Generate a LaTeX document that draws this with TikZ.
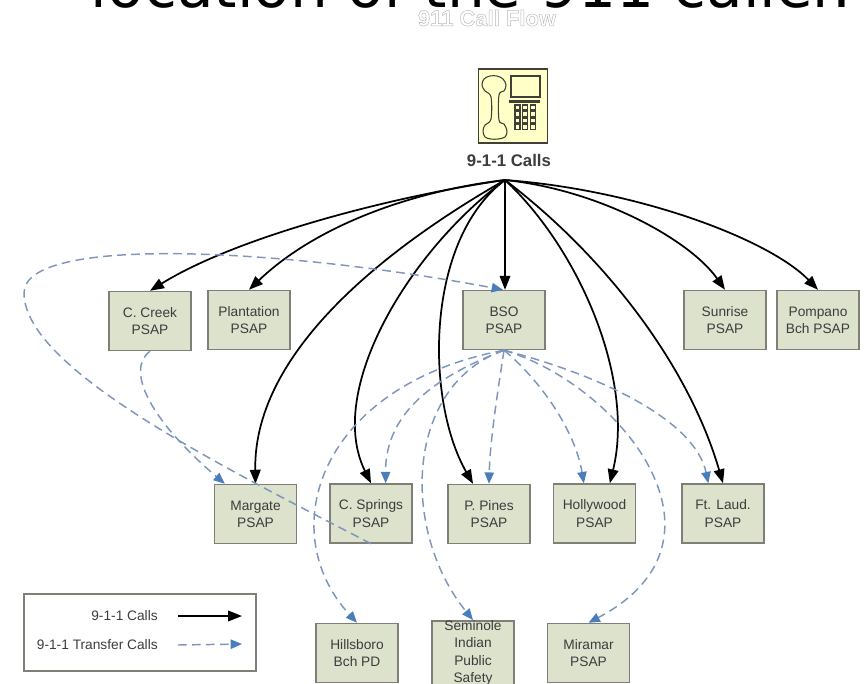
\documentclass[tikz,border=0pt]{standalone}
\usepackage{fontspec}
\setmainfont{Liberation Sans}
\newfontfamily\headfont{DejaVu Sans}
\usetikzlibrary{arrows.meta}
\definecolor{PsapFill}{HTML}{DDE2CC}
\definecolor{PsapEdge}{HTML}{7F7F78}
\definecolor{PsapText}{HTML}{3C3C3C}
\definecolor{TransferLine}{HTML}{7C96BC}
\definecolor{TransferTip}{HTML}{4A7EBB}
\definecolor{PhoneFill}{HTML}{FFFFC8}
\definecolor{PhoneEdge}{HTML}{404038}
\newcommand{\outlinetext}[1]{\special{pdf:literal direct 1 Tr 0.35 w 0.72 G}#1\special{pdf:literal direct 0 Tr}}
\tikzset{
  psap/.style={draw=PsapEdge, line width=1.1pt, fill=PsapFill, text=PsapText, minimum width=61.5pt, minimum height=44.25pt, inner sep=0pt, align=center, font=\fontsize{10.3}{12.9}\selectfont},
  legendtext/.style={anchor=east, inner sep=0pt, text=PsapText, font=\fontsize{10.3}{12}\selectfont},
  call/.style={-{Triangle[length=10.5pt,width=8pt]}, black, line width=1.3pt},
  transfer/.style={-{Triangle[length=8.5pt,width=7pt,color=TransferTip]}, TransferLine, line width=1.1pt, dash pattern=on 6.5pt off 4pt}
}
\begin{document}
\begin{tikzpicture}[x=0.75pt, y=-0.75pt]
    \useasboundingbox (0,0) rectangle (867,683);

    % Slide title, cut by the top edge
    \node[anchor=base, inner sep=0pt, font=\headfont\fontsize{44.8}{44.8}\selectfont] (slidetitle) at (471,7) {location of the 911 caller.};
    \node[inner sep=0pt, font=\bfseries\fontsize{16.5}{18}\selectfont] (flowtitle) at (487,18) {\outlinetext{911 Call Flow}};

    % Telephone
    \node[draw=PhoneEdge, line width=1.2pt, fill=PhoneFill, minimum width=52pt, minimum height=55.5pt, inner sep=0pt] (phone) at (513,106) {};
    \draw[PhoneEdge, line width=0.8pt] plot[smooth cycle, tension=0.6] coordinates {(490,76) (497,76) (503,79) (506,85) (504,91) (499,95) (499,120) (504,124) (507,131) (505,137) (498,139) (491,139) (485,137) (483,131) (485,125) (491,119) (491,97) (485,91) (482,85) (484,79)};
    \draw[PhoneEdge, line width=0.9pt] (511,76) rectangle (540,97);
    \fill[PhoneEdge] (509,100) rectangle (540,102.5);
    \foreach \keyx in {515,522.5,530.5}
        \foreach \keyy in {105,111.5,118,124.5}
            \draw[PhoneEdge, line width=0.8pt] (\keyx,\keyy) rectangle ++(5,5);
    \node[inner sep=0pt, text=PsapText, font=\bfseries\fontsize{12.6}{14}\selectfont] (calls) at (509,160) {9-1-1 Calls};
    \coordinate (fan) at (505,180);

    % Top row
    \node[psap] (creek) at (150,321) {C. Creek\\PSAP};
    \node[psap] (plantation) at (249,320) {Plantation\\PSAP};
    \node[psap] (bso) at (504,320) {BSO\\PSAP};
    \node[psap] (sunrise) at (725,320) {Sunrise\\PSAP};
    \node[psap] (pompano) at (818,320) {Pompano\\Bch PSAP};

    % Middle row
    \node[psap] (margate) at (255.5,514) {Margate\\PSAP};
    \node[psap] (springs) at (371,513.5) {C. Springs\\PSAP};
    \node[psap] (pines) at (489,514) {P. Pines\\PSAP};
    \node[psap] (hollywood) at (594.5,513.5) {Hollywood\\PSAP};
    \node[psap] (laud) at (723,513.5) {Ft. Laud.\\PSAP};

    % Bottom row
    \node[psap] (hillsboro) at (357,653) {Hillsboro\\Bch PD};
    \node[psap] (seminole) at (473,653) {Seminole\\Indian\\Public\\Safety};
    \node[psap] (miramar) at (588.5,653) {Miramar\\PSAP};

    % 9-1-1 calls
    \draw[call] (fan) .. controls (400,195) and (240,235) .. (creek.north);
    \draw[call] (fan) .. controls (420,190) and (320,222) .. (plantation.north);
    \draw[call] (fan) .. controls (400,240) and (253,346) .. (margate.north);
    \draw[call] (fan) .. controls (410,250) and (325,390) .. (springs.north);
    \draw[call] (fan) .. controls (425,240) and (425,400) .. ([xshift=-12pt]pines.north);
    \draw[call] (fan) -- ([xshift=0.75pt]bso.north);
    \draw[call] (fan) .. controls (580,250) and (635,380) .. ([xshift=11.5pt]hollywood.north);
    \draw[call] (fan) .. controls (610,260) and (690,370) .. (laud.north);
    \draw[call] (fan) .. controls (600,190) and (690,240) .. (sunrise.north);
    \draw[call] (fan) .. controls (640,190) and (770,240) .. (pompano.north);

    % Transfer calls
    \draw[transfer] (springs.south) .. controls (230,470) and (24,370) .. (24,293) .. controls (24,235) and (280,248) .. ([xshift=-0.75pt]bso.north);
    \draw[transfer] (creek.south) .. controls (125,370) and (150,420) .. ([xshift=-23pt]margate.north);
    \draw[transfer] (bso.south) .. controls (440,375) and (385,410) .. ([xshift=11pt]springs.north);
    \draw[transfer] (bso.south) .. controls (320,385) and (272,530) .. (hillsboro.north);
    \draw[transfer] (bso.south) .. controls (405,385) and (400,530) .. (seminole.north);
    \draw[transfer] (bso.south) .. controls (498,390) and (490,440) .. (pines.north);
    \draw[transfer] (bso.south) .. controls (540,380) and (575,430) .. ([xshift=-8pt]hollywood.north);
    \draw[transfer] (bso.south) .. controls (600,375) and (695,420) .. ([xshift=-11pt]laud.north);
    \draw[transfer] (bso.south) .. controls (620,385) and (745,540) .. (miramar.north);

    % Legend
    \node[draw=PsapEdge, line width=1.1pt, fill=white, minimum width=174pt, minimum height=57.75pt, inner sep=0pt] (legend) at (140,632.5) {};
    \node[legendtext] (callslabel) at (158,616) {9-1-1 Calls};
    \node[legendtext] (transferlabel) at (158,645) {9-1-1 Transfer Calls};
    \coordinate (callsend) at (242,616);
    \coordinate (transferend) at (242,644);
    \draw[call] ([xshift=15pt]callslabel.east) -- (callsend);
    \draw[transfer] ([xshift=15pt]transferlabel.east) -- (transferend);
\end{tikzpicture}
\end{document}
